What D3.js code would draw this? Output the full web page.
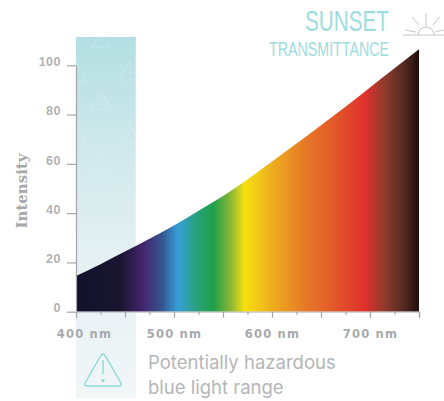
<!DOCTYPE html>
<html>
<head>
<meta charset="utf-8">
<script src="https://cdn.jsdelivr.net/npm/d3@7"></script>
<style>
  html, body { margin: 0; padding: 0; background: #fff; }
  svg { display: block; }
</style>
</head>
<body>
<div id="chart"></div>
<script>
// curve
const wavelengths = [400, 425, 450, 475, 500, 525, 550, 575, 600, 625, 650, 675, 700, 725, 750];
const intensity = [14.5, 19.3, 24.4, 29.6, 35, 41, 47, 53.7, 61, 68.3, 75.7, 83.2, 91, 98.8, 106.5];

const yTicks = [0, 20, 40, 60, 80, 100];
const xTicks = [400, 425, 450, 475, 500, 525, 550, 575, 600, 625, 650, 675, 700, 725, 750];
const xLabels = [400, 500, 600, 700];

// spectrum colours by wavelength
const stopNm = [400, 445, 468, 488, 504, 522, 540, 558, 572, 600, 633, 665, 695, 715, 735, 750];
const stopColor = ['#14122c', '#19152e', '#44246c', '#35558f', '#379fd8', '#2aa080', '#1ea04a', '#8bb836', '#f5e00e', '#eeae1e', '#e67a26', '#e2562a', '#e0302c', '#8f3a2c', '#522a22', '#1e0d0c'];

const bandRange = [400, 461];

// watermark triangles in the band
const warnCx = [101, 129, 101, 129, 101, 129, 76, 76, 76, 134];
const warnCy = [39, 71, 100, 133, 162, 192, 72, 133, 376, 376];

const width = 444;
const height = 401;
const x = d3.scaleLinear().domain([400, 750]).range([76, 419]);
const y = d3.scaleLinear().domain([0, 100]).range([311.7, 65.3]);

const svg = d3.select('#chart').append('svg')
  .attr('width', width)
  .attr('height', height);

const defs = svg.append('defs');

const spectrum = defs.append('linearGradient')
  .attr('id', 'spectrum')
  .attr('gradientUnits', 'userSpaceOnUse')
  .attr('x1', x(400)).attr('x2', x(750))
  .attr('y1', 0).attr('y2', 0);
spectrum.selectAll('stop')
  .data(stopNm)
  .join('stop')
  .attr('offset', d => (d - 400) / 350)
  .attr('stop-color', (d, i) => stopColor[i]);

const bandFill = defs.append('linearGradient')
  .attr('id', 'bandFill')
  .attr('x1', 0).attr('x2', 0)
  .attr('y1', 0).attr('y2', 1);
bandFill.append('stop').attr('offset', 0).attr('stop-color', '#b3dfe2');
bandFill.append('stop').attr('offset', 0.3).attr('stop-color', '#cfe8eb');
bandFill.append('stop').attr('offset', 0.6).attr('stop-color', '#e4f0f2');
bandFill.append('stop').attr('offset', 1).attr('stop-color', '#f1f6f7');

defs.append('clipPath').attr('id', 'bandClip')
  .append('rect')
  .attr('x', x(bandRange[0])).attr('y', 37)
  .attr('width', x(bandRange[1]) - x(bandRange[0])).attr('height', 361);

// *********** blue light band ***********
svg.append('rect')
  .attr('x', x(bandRange[0])).attr('y', 37)
  .attr('width', x(bandRange[1]) - x(bandRange[0])).attr('height', 361)
  .attr('fill', 'url(#bandFill)');

const trianglePath = 'M0,-9 L9.5,8 Q10,9 9,9 L-9,9 Q-10,9 -9.5,8 Z M0,-3 V3';
const warnG = svg.append('g').attr('clip-path', 'url(#bandClip)');
warnG.selectAll('path')
  .data(warnCy)
  .join('path')
  .attr('d', trianglePath)
  .attr('transform', (d, i) => `translate(${warnCx[i]},${d})`)
  .attr('fill', 'none')
  .attr('stroke', '#ffffff')
  .attr('stroke-opacity', 0.22)
  .attr('stroke-width', 1);

// *********** spectrum area ***********
const area = d3.area()
  .x((d, i) => x(wavelengths[i]))
  .y0(y(0))
  .y1(d => y(d))
  .curve(d3.curveMonotoneX);

svg.append('path')
  .datum(intensity)
  .attr('d', area)
  .attr('fill', 'url(#spectrum)');

// *********** axes ***********
const yAxis = svg.append('g')
  .attr('transform', `translate(${x(400)},0)`)
  .call(d3.axisLeft(y).tickValues(yTicks).tickSize(9).tickSizeOuter(0).tickPadding(6));
yAxis.select('.domain').attr('stroke', '#a3a5a8').attr('stroke-width', 1.2);
yAxis.selectAll('line').attr('stroke', '#a3a5a8').attr('stroke-width', 1.2);
yAxis.selectAll('text')
  .attr('fill', '#b0b2b4')
  .attr('font-family', '"Liberation Sans", sans-serif')
  .attr('font-weight', 'bold')
  .attr('font-size', 12.5)
  .attr('letter-spacing', 0.5)
  .attr('dy', '0.02em');

const xAxis = svg.append('g')
  .attr('transform', `translate(0,${y(0)})`)
  .call(d3.axisBottom(x)
    .tickValues(xTicks)
    .tickSizeOuter(0)
    .tickSize(6)
    .tickPadding(12)
    .tickFormat(d => (xLabels.includes(d) ? `${d} nm` : '')));
xAxis.select('.domain').attr('stroke', '#c2c4c6').attr('stroke-width', 1.2);
xAxis.selectAll('line')
  .attr('stroke', '#a3a5a8')
  .attr('stroke-width', 1.2)
  .attr('y2', d => (d % 50 === 0 ? 6 : 3));
xAxis.selectAll('text')
  .attr('fill', '#a8aaac')
  .attr('font-family', '"DejaVu Sans", sans-serif')
  .attr('font-weight', 'bold')
  .attr('font-size', 11.5)
  .attr('letter-spacing', 1.2)
  .attr('dx', d => (d === 400 ? 8 : 0));

svg.append('text')
  .attr('transform', 'translate(27,191) rotate(-90)')
  .attr('text-anchor', 'middle')
  .attr('font-family', '"DejaVu Serif", serif')
  .attr('font-weight', 'bold')
  .attr('font-size', 15)
  .attr('fill', '#a6a8aa')
  .text('Intensity');

// *********** title + sun ***********
svg.append('text')
  .attr('x', 389).attr('y', 31)
  .attr('text-anchor', 'end')
  .attr('font-family', '"Liberation Sans", sans-serif')
  .attr('font-size', 30)
  .attr('textLength', 84)
  .attr('lengthAdjust', 'spacingAndGlyphs')
  .attr('fill', '#9ddde0')
  .text('SUNSET');
svg.append('text')
  .attr('x', 389).attr('y', 56)
  .attr('text-anchor', 'end')
  .attr('font-family', '"Liberation Sans", sans-serif')
  .attr('font-size', 19.5)
  .attr('textLength', 120)
  .attr('lengthAdjust', 'spacingAndGlyphs')
  .attr('fill', '#9ddde0')
  .text('TRANSMITTANCE');

const sun = svg.append('g')
  .attr('transform', 'translate(426,35)')
  .attr('fill', 'none')
  .attr('stroke', '#c4c6c8')
  .attr('stroke-width', 1);
sun.append('line').attr('x1', -23).attr('x2', 18).attr('y1', 0).attr('y2', 0);
sun.append('path').attr('d', 'M-8,0 A8,8 0 0 1 8,0');
[[0, -9, 0, -22], [-7, -10, -14, -18], [7, -10, 14, -18], [-10, -3, -21, -5], [9, -3, 18, -5]].forEach(r => {
  sun.append('line').attr('x1', r[0]).attr('y1', r[1]).attr('x2', r[2]).attr('y2', r[3]);
});

// *********** legend ***********
const warn = svg.append('g')
  .attr('transform', 'translate(103,372)')
  .attr('fill', 'none')
  .attr('stroke', '#8fd8dc')
  .attr('stroke-width', 1.4)
  .attr('stroke-linejoin', 'round');
warn.append('path').attr('d', 'M0,-18 Q1.5,-18 3,-15 L18,11 Q19,14 16,14 L-16,14 Q-19,14 -18,11 L-3,-15 Q-1.5,-18 0,-18 Z');
warn.append('line').attr('x1', 0).attr('x2', 0).attr('y1', -12).attr('y2', 2);
warn.append('circle').attr('cx', 0).attr('cy', 8.7).attr('r', 0.9).attr('fill', '#8fd8dc');

const legendLines = ['Potentially hazardous', 'blue light range'];
svg.selectAll('text.legend')
  .data(legendLines)
  .join('text')
  .attr('class', 'legend')
  .attr('x', 148)
  .attr('y', (d, i) => 369 + i * 25)
  .attr('font-family', 'Inter, "Open Sans", sans-serif')
  .attr('font-size', 18.5)
  .attr('fill', '#b4b6b9')
  .text(d => d);
</script>
</body>
</html>
